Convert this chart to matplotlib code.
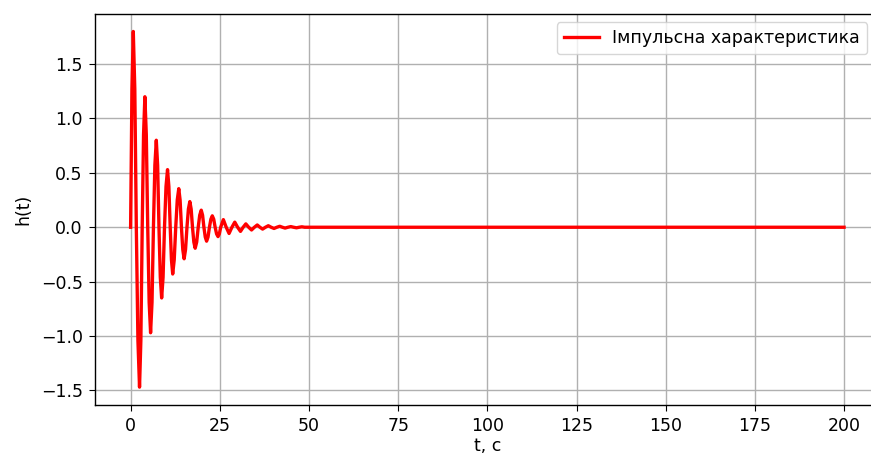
import matplotlib.pyplot as plt

plt.rcParams['font.size'] = 12.5
plt.rcParams['xtick.major.size'] = 4.4
plt.rcParams['ytick.major.size'] = 4.4
plt.rcParams['xtick.major.pad'] = 4.4
plt.rcParams['ytick.major.pad'] = 4.4
plt.rcParams['axes.linewidth'] = 1.0
plt.rcParams['grid.linewidth'] = 1.0

# Impulse response h(t): for each half-wave the zero crossing, shoulder,
# extremum and shoulder; the small tail keeps only extrema and zeros
t = [0.0, 0.375, 0.75, 1.175,
     1.6, 2.05, 2.5, 2.875,
     3.25, 3.625, 4.0, 4.4,
     4.8, 5.2, 5.6, 6.0,
     6.4, 6.8, 7.2, 7.575,
     7.95, 8.325, 8.7, 9.1,
     9.5, 9.925, 10.35, 10.725,
     11.1, 11.45, 11.8, 12.225,
     12.65, 13.075, 13.5, 13.875,
     14.25, 14.625, 15.0, 15.4,
     15.8, 16.2, 16.6, 16.975,
     17.35, 17.725, 18.1, 18.525,
     18.95, 19.375, 19.8, 20.175,
     20.55, 20.925, 21.3, 21.7,
     22.1, 22.5, 22.9, 23.3,
     23.7, 24.1, 24.5, 24.875,
     25.25, 26.0, 26.8, 27.6, 28.4, 29.2, 30.0, 30.8, 31.55, 32.3, 33.1,
     33.9, 34.7, 35.5, 36.25, 37.0, 37.8, 38.6, 39.4, 40.2, 41.0, 41.8,
     42.55, 43.3, 44.1, 44.9, 45.7, 46.5, 47.25, 48.0, 48.8, 50.0, 200.0]
h = [0.0, 1.27, 1.80, 1.27,
     0.0, -1.04, -1.47, -1.04,
     0.0, 0.85, 1.20, 0.85,
     0.0, -0.69, -0.97, -0.69,
     0.0, 0.57, 0.80, 0.57,
     0.0, -0.46, -0.65, -0.46,
     0.0, 0.375, 0.53, 0.375,
     0.0, -0.30, -0.43, -0.30,
     0.0, 0.25, 0.355, 0.25,
     0.0, -0.205, -0.29, -0.205,
     0.0, 0.167, 0.236, 0.167,
     0.0, -0.136, -0.193, -0.136,
     0.0, 0.111, 0.157, 0.111,
     0.0, -0.09, -0.128, -0.09,
     0.0, 0.074, 0.105, 0.074,
     0.0, -0.061, -0.086, -0.061,
     0.0, 0.07, 0.0, -0.057, 0.0, 0.047, 0.0, -0.038, 0.0, 0.031, 0.0,
     -0.025, 0.0, 0.021, 0.0, -0.017, 0.0, 0.014, 0.0, -0.011, 0.0, 0.009,
     0.0, -0.0075, 0.0, 0.006, 0.0, -0.005, 0.0, 0.004, 0.0, 0.0, 0.0]

fig = plt.figure(figsize=(8.71, 4.57), dpi=100)
ax = fig.add_axes([0.109, 0.114, 0.901, 0.856])

ax.plot(t, h, color='red', linewidth=2.4, label='Імпульсна характеристика')
ax.set_xlabel('t, c', labelpad=1)
ax.set_ylabel('h(t)', labelpad=6)
ax.grid(True)
ax.legend(loc='upper right', bbox_to_anchor=(0.995, 1.0))

fig.savefig('out.png', dpi=100)
